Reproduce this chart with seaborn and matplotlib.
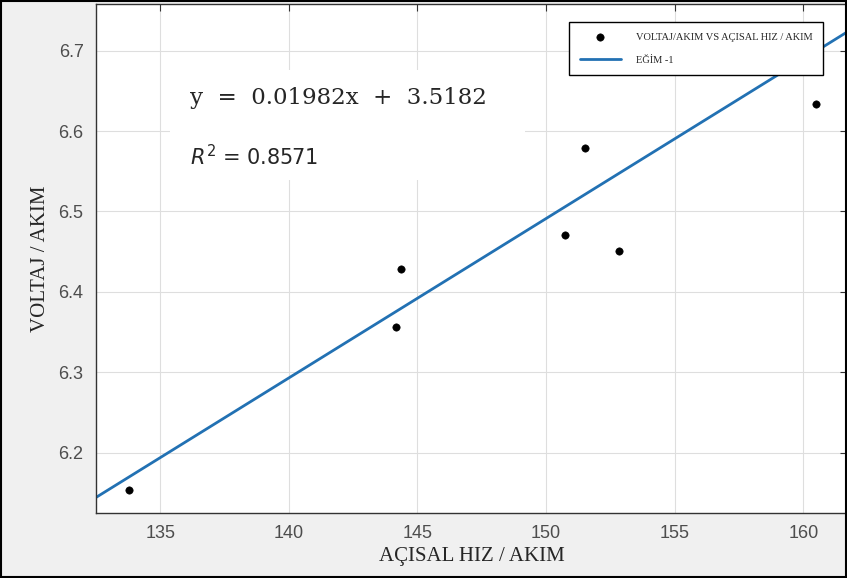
import numpy as np
import pandas as pd
import matplotlib.pyplot as plt
import seaborn as sns
from matplotlib.patches import Rectangle

# data
aci_hiz = [133.8, 144.15, 144.35, 150.75, 151.5, 152.85, 160.5]
voltaj = [6.154, 6.356, 6.429, 6.471, 6.579, 6.451, 6.634]
egim = 0.01982
kesim = 3.5182
fit_x = [132.5, 161.7]
fit_y = [egim * v + kesim for v in fit_x]

x_ticks = [135, 140, 145, 150, 155, 160]
y_ticks = [6.2, 6.3, 6.4, 6.5, 6.6, 6.7]

df = pd.DataFrame({"x": aci_hiz, "y": voltaj})
df_fit = pd.DataFrame({"x": fit_x, "y": fit_y})

sns.set_style("whitegrid")
fig = plt.figure(figsize=(8.47, 5.78), dpi=100, facecolor="#f0f0f0")
ax = fig.add_axes([96 / 847, 1 - 513 / 578, 1 - 96 / 847, (513 - 4) / 578])

sns.lineplot(data=df_fit, x="x", y="y", ax=ax, color="#2271b3", lw=2,
             label="EĞİM -1", zorder=2)
sns.scatterplot(data=df, x="x", y="y", ax=ax, color="black", s=28,
                edgecolor="black", label="VOLTAJ/AKIM VS AÇISAL HIZ / AKIM", zorder=3)

ax.set_xlim(132.5, 161.7)
ax.set_ylim(6.125, 6.758)
ax.set_xticks(x_ticks)
ax.set_yticks(y_ticks)
ax.grid(True, color="#dedede", lw=0.8)
ax.tick_params(direction="in", length=5, color="#333333", labelcolor="#4d4d4d",
               labelsize=13, top=True, right=True, pad=9)
for t in ax.get_xticklabels() + ax.get_yticklabels():
    t.set_family("Liberation Sans")
for s in ax.spines.values():
    s.set_color("#333333")
    s.set_linewidth(1)

ax.set_xlabel("AÇISAL HIZ / AKIM", family="Liberation Serif", fontsize=15, labelpad=3)
ax.set_ylabel("VOLTAJ / AKIM", family="Liberation Serif", fontsize=15, labelpad=6)

# scatter first, then the line
h, l = ax.get_legend_handles_labels()
leg = ax.legend([h[1], h[0]], [l[1], l[0]], loc="upper right",
                bbox_to_anchor=(1 - 19 / 751, 1 - 13 / 509),
                prop={"family": "Liberation Serif", "size": 7.5}, frameon=True,
                fancybox=False, edgecolor="black", framealpha=1, borderpad=1.0,
                labelspacing=1.3, handlelength=4, handletextpad=1.4)
leg.get_frame().set_linewidth(1)
leg.get_frame().set_facecolor("white")
leg.set_zorder(6)

# white box behind the equation
ax.add_patch(Rectangle((170 / 847, 1 - 180 / 578), 355 / 847, 110 / 578,
                       transform=fig.transFigure, facecolor="white",
                       edgecolor="none", zorder=1.5))
fig.text(190 / 847, 1 - 98 / 578, "y  =  0.01982x  +  3.5182",
         family="DejaVu Serif", fontsize=16.5, va="center", zorder=4)
fig.text(190 / 847, 1 - 157 / 578, r"$R^2$ = 0.8571",
         family="DejaVu Sans", fontsize=15, va="center", zorder=4)

# black frame round the whole picture
fig.patches.append(Rectangle((0.001, 0.002), 0.998, 0.996, transform=fig.transFigure,
                             fill=False, edgecolor="black", lw=1.5))

fig.savefig("out.png", dpi=100, facecolor=fig.get_facecolor())
